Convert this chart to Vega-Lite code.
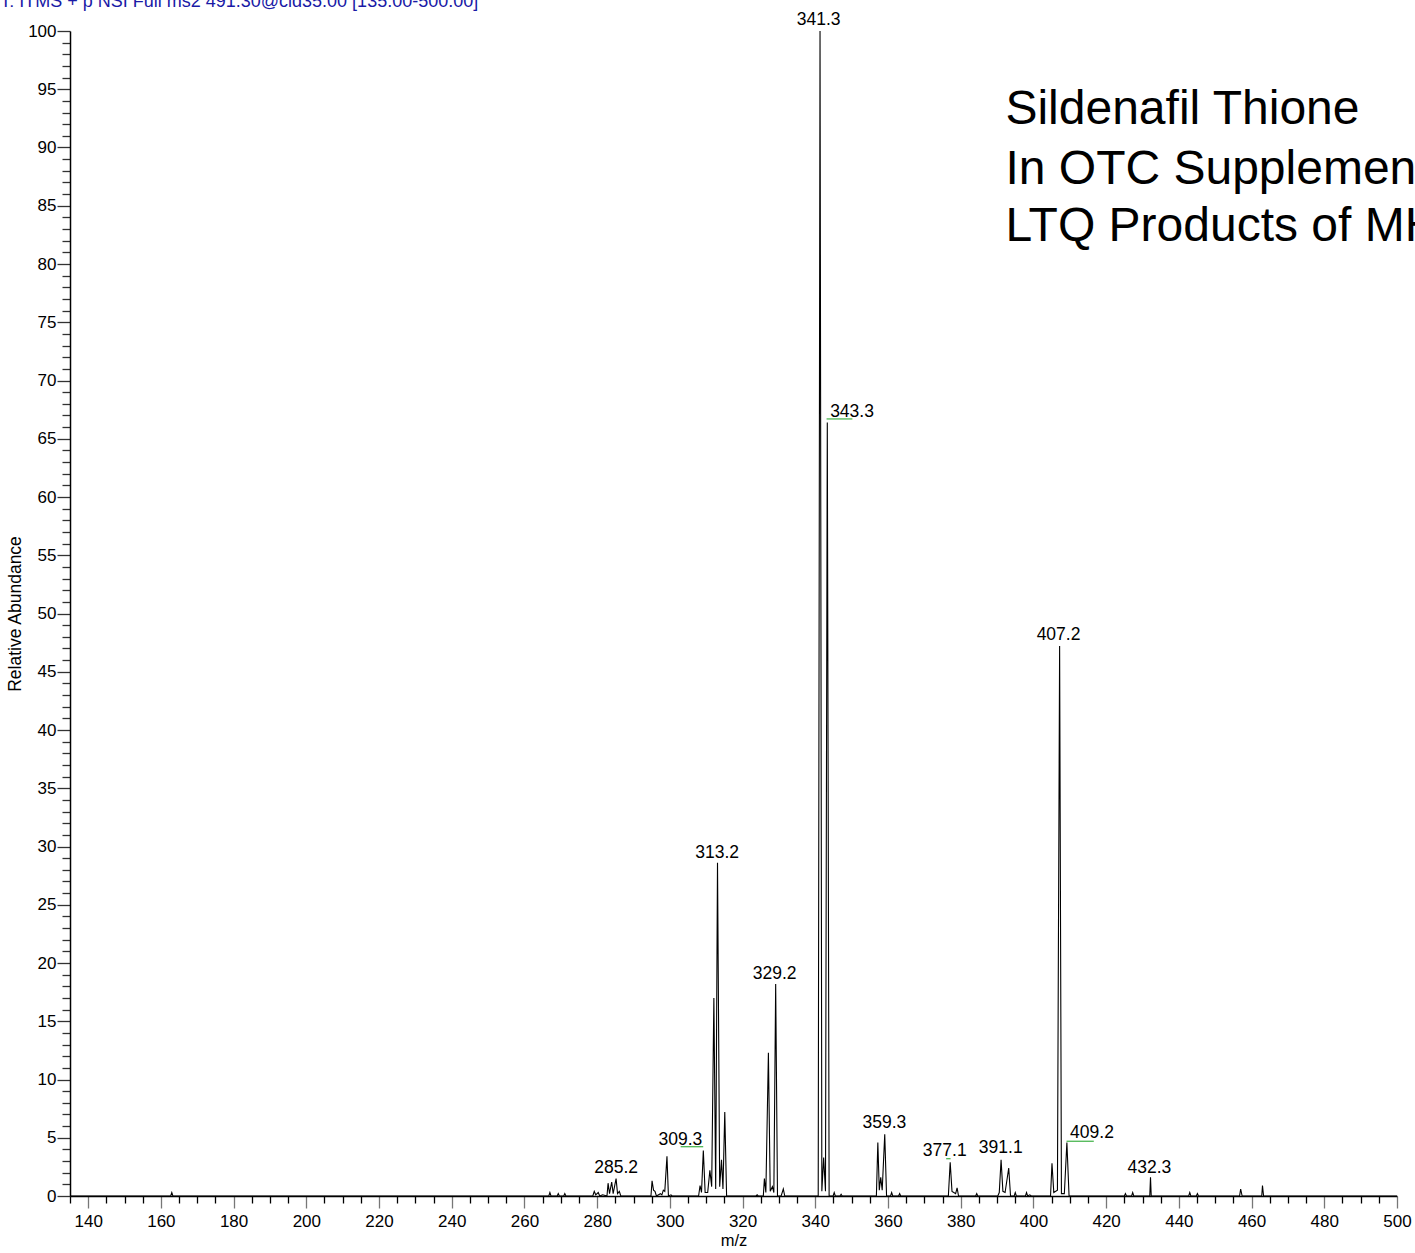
{
  "$schema": "https://vega.github.io/schema/vega-lite/v6.json",
  "autosize": "none",
  "width": 1327,
  "height": 1165,
  "padding": {"left": 70, "top": 31, "right": 18, "bottom": 57},
  "background": "white",
  "config": {"view": {"stroke": null}, "font": "Liberation Sans"},
  "encoding": {
    "x": {
      "field": "mz", "type": "quantitative",
      "scale": {"domain": [135, 500], "nice": false, "zero": false},
      "axis": {
        "title": "m/z",
        "titleFont": "Liberation Sans", "titleFontSize": 16.5, "titleFontWeight": "normal", "titleColor": "black", "titlePadding": 3,
        "values": [135,140,145,150,155,160,165,170,175,180,185,190,195,200,205,210,215,220,225,230,235,240,245,250,255,260,265,270,275,280,285,290,295,300,305,310,315,320,325,330,335,340,345,350,355,360,365,370,375,380,385,390,395,400,405,410,415,420,425,430,435,440,445,450,455,460,465,470,475,480,485,490,495,500],
        "labelExpr": "datum.value % 20 === 0 ? datum.label : ''",
        "labelFont": "Liberation Sans", "labelFontSize": 17, "labelColor": "black", "labelPadding": 5,
        "labelFlush": false, "labelOverlap": false,
        "tickSize": {"condition": {"test": "datum.value % 20 === 0", "value": 12}, "value": 7},
        "tickColor": {"condition": {"test": "datum.value % 20 === 0", "value": "#777777"}, "value": "black"},
        "tickWidth": 1.3,
        "domainColor": "black", "domainWidth": 1.5,
        "grid": false
      }
    },
    "y": {
      "field": "ab", "type": "quantitative",
      "scale": {"domain": [0, 100], "nice": false},
      "axis": {
        "title": "Relative Abundance",
        "titleFont": "Liberation Sans", "titleFontSize": 17.5, "titleFontWeight": "normal", "titleColor": "black", "titlePadding": 3,
        "values": [0,1,2,3,4,5,6,7,8,9,10,11,12,13,14,15,16,17,18,19,20,21,22,23,24,25,26,27,28,29,30,31,32,33,34,35,36,37,38,39,40,41,42,43,44,45,46,47,48,49,50,51,52,53,54,55,56,57,58,59,60,61,62,63,64,65,66,67,68,69,70,71,72,73,74,75,76,77,78,79,80,81,82,83,84,85,86,87,88,89,90,91,92,93,94,95,96,97,98,99,100],
        "labelExpr": "datum.value % 5 === 0 ? datum.label : ''",
        "labelFont": "Liberation Sans", "labelFontSize": 17, "labelColor": "black", "labelPadding": 1,
        "labelFlush": false, "labelOverlap": false,
        "tickSize": {"condition": {"test": "datum.value % 5 === 0", "value": 13}, "value": 8},
        "tickColor": "#333333", "tickWidth": 1.3,
        "domainColor": "black", "domainWidth": 1.5,
        "grid": false
      }
    }
  },
  "layer": [
    {
      "data": {"values": [
        {"mz":135,"ab":0},{"mz":162.7,"ab":0},{"mz":163.0,"ab":0.3},{"mz":163.3,"ab":0},
        {"mz":266.7,"ab":0},{"mz":267.0,"ab":0.3},{"mz":267.3,"ab":0},
        {"mz":269.0,"ab":0},{"mz":269.3,"ab":0.2},{"mz":269.6,"ab":0},
        {"mz":270.8,"ab":0},{"mz":271.1,"ab":0.2},{"mz":271.4,"ab":0},
        {"mz":278.8,"ab":0},{"mz":279.2,"ab":0.4},{"mz":279.6,"ab":0.1},{"mz":280.3,"ab":0.3},{"mz":280.7,"ab":0},
        {"mz":281.5,"ab":0.1},{"mz":282.7,"ab":0},{"mz":283.0,"ab":1.1},{"mz":283.4,"ab":0.2},{"mz":284.0,"ab":1.2},{"mz":284.4,"ab":0.2},
        {"mz":285.2,"ab":1.5},{"mz":285.6,"ab":0.2},{"mz":286.1,"ab":0.4},{"mz":286.5,"ab":0},
        {"mz":294.8,"ab":0},{"mz":295.1,"ab":1.3},{"mz":295.5,"ab":0.5},{"mz":295.9,"ab":0.4},{"mz":296.3,"ab":0},
        {"mz":297.4,"ab":0.2},{"mz":297.8,"ab":0.1},{"mz":298.2,"ab":0.5},{"mz":298.6,"ab":0.4},{"mz":299.2,"ab":3.4},{"mz":299.6,"ab":0},
        {"mz":300.3,"ab":0.1},{"mz":300.6,"ab":0},
        {"mz":307.9,"ab":0},{"mz":308.3,"ab":0.9},{"mz":308.7,"ab":0.3},{"mz":309.2,"ab":3.9},{"mz":309.7,"ab":0.3},{"mz":310.4,"ab":0.3},
        {"mz":311.0,"ab":2.2},{"mz":311.5,"ab":0.8},{"mz":312.1,"ab":17.0},{"mz":312.6,"ab":0.6},{"mz":313.1,"ab":28.6},{"mz":313.7,"ab":0.8},
        {"mz":314.2,"ab":3.1},{"mz":314.6,"ab":0.6},{"mz":315.1,"ab":7.2},{"mz":315.6,"ab":0},
        {"mz":323.7,"ab":0},{"mz":324.0,"ab":0.1},{"mz":324.3,"ab":0},
        {"mz":325.7,"ab":0},{"mz":326.0,"ab":1.5},{"mz":326.4,"ab":0.3},{"mz":327.1,"ab":12.3},{"mz":327.6,"ab":0.4},{"mz":328.2,"ab":0.8},
        {"mz":328.6,"ab":0.3},{"mz":329.1,"ab":18.2},{"mz":329.6,"ab":0},{"mz":330.6,"ab":0},{"mz":331.2,"ab":0.6},{"mz":331.6,"ab":0},
        {"mz":340.8,"ab":0},{"mz":341.3,"ab":100},{"mz":341.8,"ab":0.4},{"mz":342.3,"ab":3.3},{"mz":342.8,"ab":0.4},{"mz":343.3,"ab":66.4},{"mz":343.8,"ab":0},
        {"mz":344.9,"ab":0},{"mz":345.2,"ab":0.3},{"mz":345.5,"ab":0},{"mz":346.8,"ab":0},{"mz":347.1,"ab":0.15},{"mz":347.4,"ab":0},
        {"mz":356.8,"ab":0},{"mz":357.2,"ab":4.6},{"mz":357.6,"ab":0.5},{"mz":358.0,"ab":1.6},{"mz":358.4,"ab":0.5},{"mz":359.1,"ab":5.3},{"mz":359.6,"ab":0},
        {"mz":360.7,"ab":0},{"mz":361.0,"ab":0.3},{"mz":361.3,"ab":0},{"mz":362.9,"ab":0},{"mz":363.2,"ab":0.2},{"mz":363.5,"ab":0},
        {"mz":376.6,"ab":0},{"mz":377.1,"ab":2.9},{"mz":377.6,"ab":0.4},{"mz":378.1,"ab":0.3},{"mz":378.6,"ab":0.2},{"mz":379.0,"ab":0.7},{"mz":379.4,"ab":0},
        {"mz":384.1,"ab":0},{"mz":384.4,"ab":0.2},{"mz":384.7,"ab":0},
        {"mz":390.2,"ab":0},{"mz":390.6,"ab":0.3},{"mz":391.1,"ab":3.1},{"mz":391.6,"ab":0.4},{"mz":392.2,"ab":0.3},{"mz":393.2,"ab":2.4},{"mz":393.7,"ab":0},
        {"mz":394.7,"ab":0},{"mz":395.0,"ab":0.3},{"mz":395.3,"ab":0},{"mz":397.8,"ab":0},{"mz":398.1,"ab":0.3},{"mz":398.4,"ab":0},{"mz":399.0,"ab":0.1},{"mz":399.4,"ab":0},
        {"mz":404.7,"ab":0},{"mz":405.1,"ab":2.8},{"mz":405.6,"ab":0.3},{"mz":406.6,"ab":0.5},{"mz":407.2,"ab":47.2},{"mz":407.7,"ab":0.2},{"mz":408.5,"ab":0.2},
        {"mz":409.2,"ab":4.6},{"mz":409.8,"ab":0},
        {"mz":425.0,"ab":0},{"mz":425.3,"ab":0.2},{"mz":425.6,"ab":0},{"mz":427.0,"ab":0},{"mz":427.3,"ab":0.3},{"mz":427.6,"ab":0},
        {"mz":432.0,"ab":0},{"mz":432.2,"ab":1.6},{"mz":432.4,"ab":0},
        {"mz":442.7,"ab":0},{"mz":443.0,"ab":0.3},{"mz":443.3,"ab":0},{"mz":444.8,"ab":0},{"mz":445.1,"ab":0.2},{"mz":445.4,"ab":0},
        {"mz":456.7,"ab":0},{"mz":457.0,"ab":0.6},{"mz":457.4,"ab":0},{"mz":462.8,"ab":0},{"mz":463.0,"ab":0.9},{"mz":463.3,"ab":0},
        {"mz":500,"ab":0}
      ]},
      "mark": {"type": "line", "color": "black", "strokeWidth": 1.1, "clip": false},
      "encoding": {}
    },
    {
      "data": {"values": [
        {"mz": 302.96, "mz2": 309.17, "ab": 4.23},
        {"mz": 343.1, "mz2": 350.2, "ab": 66.7},
        {"mz": 376.0, "mz2": 377.2, "ab": 3.2},
        {"mz": 409.1, "mz2": 416.6, "ab": 4.7}
      ]},
      "mark": {"type": "rule", "color": "#3cb043", "strokeWidth": 1.2},
      "encoding": {"x2": {"field": "mz2"}}
    },
    {
      "data": {"values": [
        {"label": "285.2", "mz": 285.2, "ab": 2.0},
        {"label": "309.3", "mz": 302.9, "ab": 4.4},
        {"label": "313.2", "mz": 313.0, "ab": 29.0},
        {"label": "329.2", "mz": 328.8, "ab": 18.6},
        {"label": "341.3", "mz": 340.9, "ab": 100.5},
        {"label": "343.3", "mz": 350.1, "ab": 66.9},
        {"label": "359.3", "mz": 359.0, "ab": 5.8},
        {"label": "377.1", "mz": 375.6, "ab": 3.4},
        {"label": "391.1", "mz": 391.0, "ab": 3.7},
        {"label": "407.2", "mz": 406.9, "ab": 47.7},
        {"label": "409.2", "mz": 416.1, "ab": 5.0},
        {"label": "432.3", "mz": 431.9, "ab": 2.0}
      ]},
      "mark": {"type": "text", "font": "Liberation Sans", "fontSize": 17.5, "color": "black", "align": "center", "baseline": "alphabetic"},
      "encoding": {"text": {"field": "label"}}
    },
    {
      "data": {"values": [
        {"line": "Sildenafil Thione", "mz": 392.3, "ab": 92.0},
        {"line": "In OTC Supplements", "mz": 392.3, "ab": 86.9},
        {"line": "LTQ Products of MH+", "mz": 392.3, "ab": 82.0}
      ]},
      "mark": {"type": "text", "font": "Liberation Sans", "fontSize": 48, "color": "black", "align": "left", "baseline": "alphabetic"},
      "encoding": {"text": {"field": "line"}}
    },
    {
      "data": {"values": [
        {"header": "T: ITMS + p NSI Full ms2 491.30@cid35.00 [135.00-500.00]", "mz": 115.8, "ab": 102.06}
      ]},
      "mark": {"type": "text", "font": "Liberation Sans", "fontSize": 18, "color": "#1a1aa6", "align": "left", "baseline": "alphabetic"},
      "encoding": {"text": {"field": "header"}}
    }
  ]
}
